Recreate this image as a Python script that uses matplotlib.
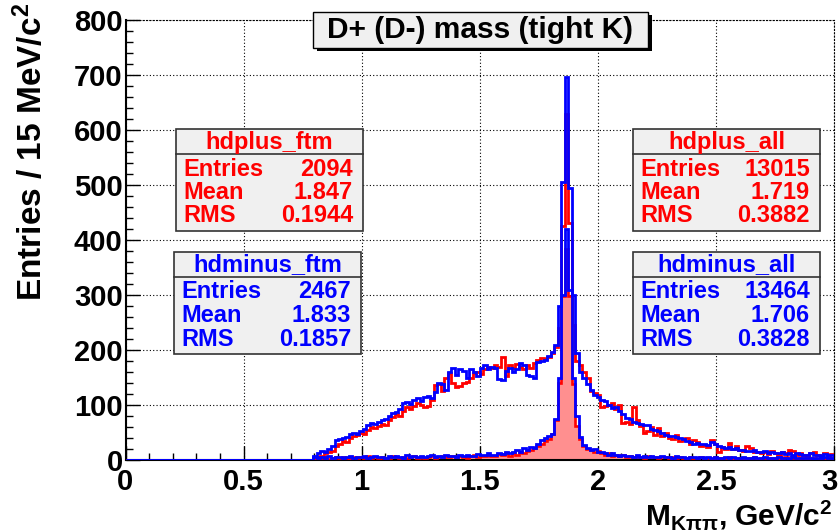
import numpy as np
import matplotlib
matplotlib.use('Agg')
import matplotlib.pyplot as plt
from matplotlib.patches import Rectangle
from matplotlib.ticker import MultipleLocator

plt.rcParams['font.family'] = ['Liberation Sans', 'DejaVu Sans']
plt.rcParams['font.weight'] = 'bold'
plt.rcParams['mathtext.fontset'] = 'custom'
plt.rcParams['mathtext.rm'] = 'Liberation Sans:bold'
plt.rcParams['mathtext.it'] = 'Liberation Sans:bold'
plt.rcParams['mathtext.bf'] = 'Liberation Sans:bold'
plt.rcParams['mathtext.default'] = 'rm'

# 200 bins of 15 MeV between 0 and 3 GeV, nothing below bin 52
edges = np.linspace(0.0, 3.0, 201)
empty = [0] * 52

hdminus_all = empty + [
    0, 8, 12, 16, 15, 20, 26, 36, 38, 40,
    42, 48, 50, 48, 52, 56, 64, 68, 66, 70,
    72, 74, 80, 86, 88, 92, 104, 106, 102, 110,
    112, 108, 115, 116, 112, 124, 140, 138, 128, 160,
    168, 155, 166, 162, 150, 165, 160, 152, 168, 172,
    165, 170, 168, 148, 145, 162, 168, 160, 165, 176,
    172, 155, 152, 150, 178, 180, 182, 190, 196, 210,
    280, 505, 697, 495, 300, 195, 160, 150, 138, 128,
    118, 115, 110, 108, 100, 95, 96, 90, 84, 76,
    74, 70, 67, 66, 63, 64, 56, 54, 52, 50,
    46, 44, 43, 42, 40, 38, 35, 33, 30, 31,
    29, 30, 28, 32, 29, 25, 24, 22, 23, 20,
    21, 18, 19, 17, 16, 18, 15, 14, 16, 13,
    14, 12, 13, 14, 11, 12, 10, 12, 11, 9,
    10, 12, 9, 10, 8, 11, 9, 10]

hdplus_all = empty + [
    0, 4, 6, 8, 12, 14, 16, 25, 30, 34,
    32, 40, 44, 46, 50, 48, 55, 60, 58, 62,
    66, 64, 72, 78, 84, 80, 90, 96, 92, 98,
    104, 100, 96, 98, 110, 136, 138, 125, 150, 158,
    140, 132, 135, 140, 142, 150, 158, 160, 156, 165,
    170, 168, 172, 170, 188, 152, 172, 168, 174, 170,
    165, 172, 168, 176, 182, 186, 184, 188, 195, 205,
    240, 425, 630, 430, 245, 180, 172, 160, 150, 125,
    122, 118, 96, 98, 100, 104, 92, 100, 68, 70,
    66, 96, 72, 62, 50, 52, 60, 46, 58, 44,
    50, 40, 38, 46, 34, 36, 40, 30, 36, 32,
    25, 28, 24, 36, 30, 15, 24, 20, 31, 20,
    26, 18, 16, 25, 22, 15, 14, 12, 14, 11,
    16, 13, 10, 14, 12, 18, 17, 10, 12, 9,
    8, 12, 14, 9, 7, 13, 8, 11]

hdplus_ftm = empty + [
    0, 4, 6, 3, 5, 2, 4, 6, 3, 5,
    4, 2, 6, 3, 5, 4, 7, 3, 5, 4,
    6, 3, 4, 8, 5, 3, 6, 4, 5, 7,
    4, 6, 3, 5, 7, 4, 6, 8, 5, 6,
    7, 5, 8, 6, 4, 7, 9, 6, 8, 7,
    10, 8, 7, 11, 9, 12, 8, 12, 10, 14,
    12, 16, 18, 22, 26, 30, 34, 38, 48, 72,
    140, 299, 383, 299, 139, 62, 38, 25, 20, 18,
    14, 16, 12, 10, 12, 8, 10, 7, 9, 6,
    8, 5, 7, 6, 4, 7, 5, 6, 4, 5,
    6, 3, 5, 4, 6, 3, 4, 5, 3, 4,
    5, 3, 4, 2, 5, 3, 4, 3, 5, 2,
    4, 3, 2, 4, 3, 5, 2, 3, 4, 2,
    3, 4, 2, 3, 5, 2, 3, 2, 4, 3,
    2, 3, 4, 2, 3, 2, 4, 3]

hdminus_ftm = empty + [
    0, 5, 4, 6, 3, 7, 4, 5, 6, 4,
    5, 7, 3, 6, 5, 8, 4, 6, 7, 5,
    6, 4, 8, 5, 7, 6, 4, 9, 5, 7,
    6, 8, 5, 7, 9, 6, 8, 6, 9, 7,
    8, 6, 9, 7, 10, 8, 7, 11, 9, 10,
    12, 10, 9, 13, 11, 14, 12, 15, 18, 14,
    22, 18, 24, 22, 30, 36, 40, 44, 48, 75,
    150, 300, 420, 310, 150, 80, 42, 28, 22, 18,
    20, 15, 14, 12, 10, 12, 9, 8, 10, 7,
    8, 6, 9, 5, 7, 6, 8, 5, 6, 7,
    5, 6, 4, 7, 5, 6, 4, 5, 6, 4,
    5, 3, 6, 4, 5, 3, 4, 6, 3, 5,
    4, 3, 5, 4, 3, 6, 4, 3, 5, 4,
    3, 4, 5, 3, 4, 2, 5, 3, 4, 3,
    4, 3, 2, 4, 3, 5, 3, 4]

x_ticks = [0, 0.5, 1, 1.5, 2, 2.5, 3]
x_ticklabels = ['0', '0.5', '1', '1.5', '2', '2.5', '3']

# stat box contents
box_names = ['hdplus_ftm', 'hdminus_ftm', 'hdplus_all', 'hdminus_all']
box_entries = ['2094', '2467', '13015', '13464']
box_means = ['1.847', '1.833', '1.719', '1.706']
box_rms = ['0.1944', '0.1857', '0.3882', '0.3828']
box_colors = ['red', 'blue', 'red', 'blue']

W, H = 840, 532
fig = plt.figure(figsize=(W / 100, H / 100), dpi=100)
fig.patch.set_facecolor('white')

def fx(px):
    return px / W

def fy(py):
    return 1 - py / H

ax = fig.add_axes([fx(125.5), fy(460), fx(834) - fx(125.5), fy(20) - fy(460)])

ax.stairs(hdplus_ftm, edges, fill=True, facecolor='#ff8f8f', edgecolor='none', zorder=2)
ax.stairs(hdplus_ftm, edges, color='red', lw=1.9, zorder=3)
ax.stairs(hdplus_all, edges, color='red', lw=2.0, zorder=3)
ax.stairs(hdminus_all, edges, color='blue', lw=2.0, zorder=4)
ax.stairs(hdminus_ftm, edges, color='blue', lw=2.0, zorder=4)

ax.set_xlim(0, 3)
ax.set_ylim(0, 800)
ax.set_xticks(x_ticks)
ax.xaxis.set_minor_locator(MultipleLocator(0.1))
ax.yaxis.set_major_locator(MultipleLocator(100))
ax.yaxis.set_minor_locator(MultipleLocator(20))
ax.tick_params(which='major', direction='in', length=10, width=1, labelsize=21)
ax.tick_params(axis='x', labelbottom=False)
ax.tick_params(axis='y', which='major', pad=2)
ax.tick_params(which='minor', direction='in', length=5, width=1)
ax.grid(True, which='major', linestyle=(0, (1, 2)), color='black', lw=0.8)
for s in ['left', 'bottom']:
    ax.spines[s].set_linewidth(1.5)
for s in ['top', 'right']:
    ax.spines[s].set_linestyle((0, (1, 2)))
    ax.spines[s].set_linewidth(0.8)

# x tick labels, the last one nudged left so it stays inside the picture
for i, (v, lab) in enumerate(zip(x_ticks, x_ticklabels)):
    dx = -5 if i == len(x_ticks) - 1 else 0
    ax.annotate(lab, (v, 0), xycoords=('data', 'axes fraction'),
                xytext=(dx, -8), textcoords='offset pixels',
                ha='center', va='top', fontsize=21)

fig.text(fx(31), fy(3), 'Entries / 15 MeV/c$^{2}$', rotation=90, ha='center', va='top',
         fontsize=24)
fig.text(fx(832), fy(525), r'M$_{K\pi\pi}$, GeV/c$^{2}$', ha='right', va='baseline',
         fontsize=21.5)

# title box with shadow
fig.add_artist(Rectangle((fx(317), fy(51)), fx(648) - fx(313), fy(12) - fy(48),
                         transform=fig.transFigure, facecolor='black', edgecolor='none'))
fig.add_artist(Rectangle((fx(313), fy(48)), fx(648) - fx(313), fy(12) - fy(48),
                         transform=fig.transFigure, facecolor='#f0f0f0', edgecolor='black', lw=1))
fig.text(fx(480), fy(30), 'D+ (D-) mass (tight K)', ha='center', va='center',
         fontsize=21.5)

# stat boxes
box_pos = [(176, 129), (174, 252), (633, 129), (633, 252)]
box_w, box_h = 187, 102
for (x0, y0), name, ent, mean, rms, col in zip(box_pos, box_names, box_entries,
                                               box_means, box_rms, box_colors):
    fig.add_artist(Rectangle((fx(x0), fy(y0 + box_h)), box_w / W, box_h / H,
                             transform=fig.transFigure, facecolor='#f0f0f0',
                             edgecolor='#333333', lw=1.2, zorder=10))
    fig.add_artist(plt.Line2D([fx(x0), fx(x0 + box_w)], [fy(y0 + 25), fy(y0 + 25)],
                              transform=fig.transFigure, color='#333333', lw=1.2, zorder=11))
    fig.text(fx(x0 + box_w / 2), fy(y0 + 13), name, ha='center', va='center',
             color=col, fontsize=17, zorder=12)
    for k, (lab, val) in enumerate([('Entries', ent), ('Mean', mean), ('RMS', rms)]):
        yy = fy(y0 + 40 + 23.5 * k)
        fig.text(fx(x0 + 7), yy, lab, ha='left', va='center', color=col, fontsize=17, zorder=12)
        fig.text(fx(x0 + box_w - 10), yy, val, ha='right', va='center', color=col,
                 fontsize=17, zorder=12)

fig.savefig('out.png', dpi=100)
